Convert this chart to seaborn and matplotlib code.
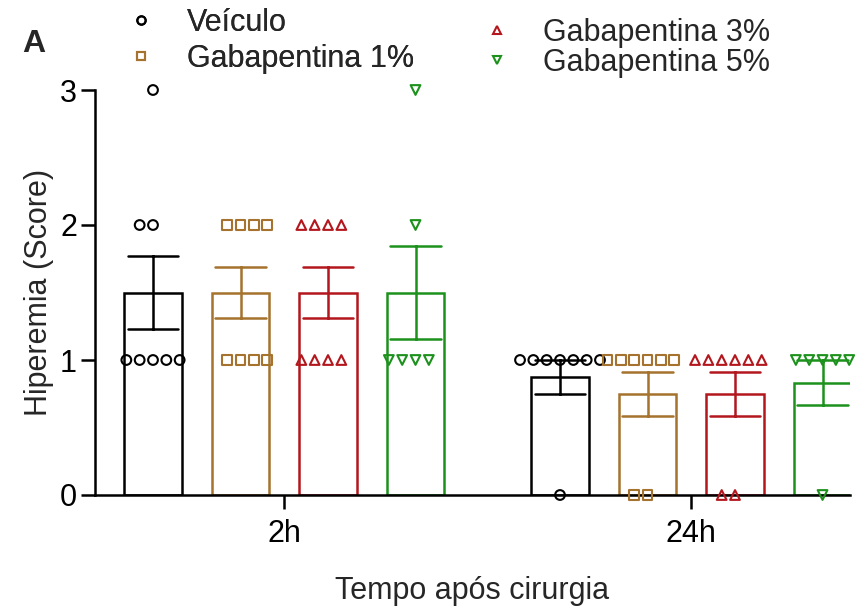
'''Hiperemia score bar chart with individual points (2h and 24h after surgery).'''

# -----------------------------------------------------------------------------
# Modules

from matplotlib import pyplot as plt  # type: ignore
from matplotlib.lines import Line2D  # type: ignore
import numpy as np  # type: ignore
import pandas as pd  # type: ignore
import seaborn as sns  # type: ignore

# -----------------------------------------------------------------------------
# Data

times = ['2h', '24h']
groups = ['Veículo', 'Gabapentina 1%', 'Gabapentina 3%', 'Gabapentina 5%']

veiculo_2h = [3, 2, 2, 1, 1, 1, 1, 1]
gaba1_2h = [2, 2, 2, 2, 1, 1, 1, 1]
gaba3_2h = [2, 2, 2, 2, 1, 1, 1, 1]
gaba5_2h = [3, 2, 1, 1, 1, 1]

veiculo_24h = [1, 1, 1, 1, 1, 1, 1, 0]
gaba1_24h = [1, 1, 1, 1, 1, 1, 0, 0]
gaba3_24h = [1, 1, 1, 1, 1, 1, 0, 0]
gaba5_24h = [1, 1, 1, 1, 1, 0]

colors = ['#000000', '#A5732D', '#B3171D', '#1C911C']
markers = ['o', 's', '^', 'v']

# -----------------------------------------------------------------------------


def build_data() -> pd.DataFrame:
    """Long table: one row per animal score."""

    series = {
        ('2h', groups[0]): veiculo_2h, ('2h', groups[1]): gaba1_2h,
        ('2h', groups[2]): gaba3_2h, ('2h', groups[3]): gaba5_2h,
        ('24h', groups[0]): veiculo_24h, ('24h', groups[1]): gaba1_24h,
        ('24h', groups[2]): gaba3_24h, ('24h', groups[3]): gaba5_24h,
    }
    rows = []
    for (time, group), values in series.items():
        for val in values:
            rows.append({'time': time, 'group': group, 'score': val})
    return pd.DataFrame(rows)


def main() -> None:

    data = build_data()
    palette = dict(zip(groups, colors))

    sns.set_style('ticks')
    plt.rcParams['font.family'] = ['Liberation Sans', 'DejaVu Sans']

    fig = plt.figure(figsize=(8.64, 6.11), dpi=100)
    ax = fig.add_axes([95 / 864, 1 - 495 / 611, 755 / 864, 405 / 611])

    bar_width = 0.86
    swarm_colls = []
    for group, color, marker in zip(groups, colors, markers):
        sub = data[data['group'] == group]
        sns.barplot(data=sub, x='time', y='score', hue='group',
                    hue_order=groups, order=times, palette=palette,
                    dodge=True, fill=False, errorbar='se', capsize=0.5,
                    width=bar_width, gap=0.345, linewidth=1.8,
                    err_kws={'color': color, 'linewidth': 1.8},
                    legend=False, ax=ax)
        n_before = len(ax.collections)
        sns.swarmplot(data=sub, x='time', y='score', hue='group',
                      hue_order=groups, order=times, palette=palette,
                      dodge=True, marker=marker, size=7, linewidth=1.5,
                      legend=False, ax=ax, clip_on=False, zorder=4,
                      warn_thresh=1)
        for coll in ax.collections[n_before:]:
            # seaborn leaves empty collections for absent hue levels
            if len(coll.get_offsets()) == 0:
                coll.set_visible(False)
                continue
            coll.set_facecolor('none')
            coll.set_edgecolor(color)
            swarm_colls.append(coll)

    ax.set_ylim(0, 3)
    ax.set_yticks([0, 1, 2, 3])
    ax.set_xlim(-0.465, 1.39)
    sns.despine(ax=ax)
    for side in ('left', 'bottom'):
        ax.spines[side].set_linewidth(1.8)
        ax.spines[side].set_color('black')
    ax.tick_params(axis='both', labelsize=22, length=10, width=1.8,
                   color='black', labelcolor='black')
    ax.tick_params(axis='y', pad=3)
    ax.tick_params(axis='x', pad=7)
    ax.set_xlabel('Tempo após cirurgia', fontsize=22, labelpad=20)
    ax.set_ylabel('Hiperemia (Score)', fontsize=22, labelpad=4)

    # swarm dodge uses a fixed 0.8 width; stretch it onto the bar positions
    fig.canvas.draw()
    for coll in swarm_colls:
        coll.__dict__.pop('draw', None)
        off = np.asarray(coll.get_offsets(), dtype=float)
        centre = np.round(off[:, 0])
        off[:, 0] = centre + (off[:, 0] - centre) * bar_width / 0.8
        coll.set_offsets(off)

    handles = [Line2D([], [], linestyle='none', marker=m, markersize=6,
                      markerfacecolor='none', markeredgecolor=c,
                      markeredgewidth=1.5)
               for m, c in zip(markers, colors)]
    common = dict(frameon=False, fontsize=22, handlelength=1.0,
                  handletextpad=1.0, borderpad=0, borderaxespad=0,
                  loc='upper left')
    leg1 = fig.legend(handles[:2], groups[:2], labelspacing=0.2,
                      bbox_to_anchor=(126 / 864, 1 - 8 / 611), **common)
    fig.legend(handles[2:], groups[2:], labelspacing=0.0,
               bbox_to_anchor=(482 / 864, 1 - 18 / 611), **common)
    fig.add_artist(leg1)

    fig.text(22 / 864, 1 - 52 / 611, 'A', fontsize=23, fontweight='bold',
             va='baseline', ha='left')

    fig.savefig('out.png', dpi=100)
    plt.close()

# -----------------------------------------------------------------------------


if __name__ == "__main__":
    main()
